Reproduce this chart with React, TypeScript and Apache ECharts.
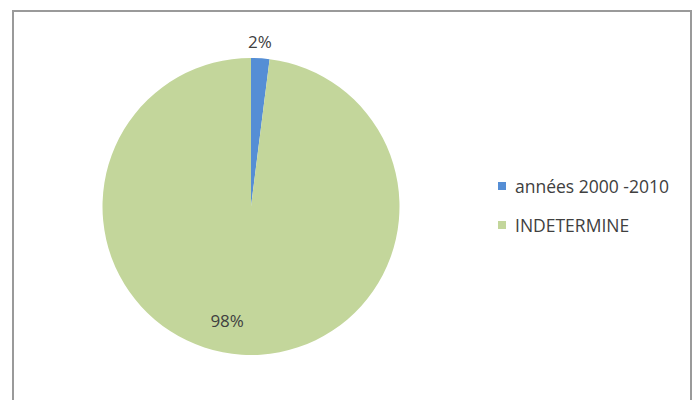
import React, { useEffect, useRef } from "react";
import * as echarts from "echarts";

const categories = ["années 2000 -2010", "INDETERMINE"];
const values = [2, 98];
const colors = ["#558ED5", "#C3D69B"];

export default function App() {
  const ref = useRef<HTMLDivElement>(null);
  useEffect(() => {
    if (!ref.current) return;
    const chart = echarts.init(ref.current, null, { renderer: "svg" });
    chart.setOption({
      animation: false,
      backgroundColor: "#ffffff",
      graphic: [
        {
          type: "rect",
          shape: { x: 13, y: 11, width: 678, height: 420 },
          style: { fill: "none", stroke: "#9a9a9a", lineWidth: 2 },
          silent: true,
          z: -1,
        },
      ],
      legend: {
        orient: "vertical",
        left: 498,
        top: 177,
        padding: 0,
        itemWidth: 8,
        itemHeight: 8,
        itemGap: 21,
        icon: "rect",
        data: categories,
        textStyle: {
          fontFamily: "Open Sans",
          fontSize: 17.5,
          color: "#404040",
          padding: [0, 0, 0, 4],
        },
      },
      series: [
        {
          type: "pie",
          center: [251, 206.5],
          radius: 148.5,
          startAngle: 90,
          clockwise: true,
          labelLine: { show: false },
          itemStyle: { borderWidth: 0 },
          emphasis: { disabled: true },
          data: categories.map((name, i) => ({
            name,
            value: values[i],
            itemStyle: { color: colors[i] },
            label:
              i === 0
                ? { position: "inside", offset: [4, -88] }
                : { position: "inside", offset: [-19, 37] },
          })),
          label: {
            show: true,
            formatter: (p: any) => `${p.value}%`,
            fontFamily: "Open Sans",
            fontSize: 17,
            color: "#404040",
          },
        },
      ],
    });
    return () => chart.dispose();
  }, []);
  return (
    <div
      ref={ref}
      style={{ position: "fixed", left: 0, top: 0, width: 697, height: 400 }}
    />
  );
}
